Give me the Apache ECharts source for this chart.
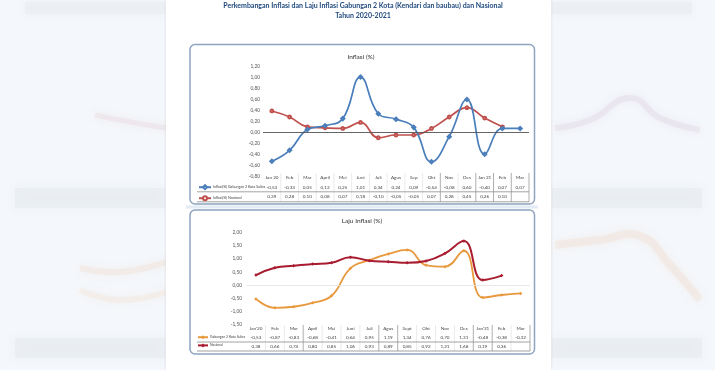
<!DOCTYPE html>
<html><head><meta charset="utf-8">
<script src="https://cdn.jsdelivr.net/npm/echarts@6/dist/echarts.min.js"></script>
<style>html,body{margin:0;padding:0;background:#f4f7fb}#c{width:715px;height:370px}</style>
</head><body><div id="c"></div>
<script>
// ---- data ----
const monthsTop = ['Jan 20','Feb','Mar','April','Mei','Juni','Juli','Agus','Sep','Okt','Nov','Des','Jan 21','Feb','Mar'];
const monthsBottom = ["Jan'20",'Feb','Mar','April','Mei','Juni','Juli','Agus','Sept','Okt','Nov','Des',"Jan'21",'Feb','Mar'];
const inflasiKota = [-0.53,-0.33,0.05,0.12,0.25,1.01,0.34,0.24,0.09,-0.54,-0.08,0.60,-0.40,0.07,0.07];
const inflasiNasional = [0.39,0.28,0.10,0.08,0.07,0.18,-0.10,-0.05,-0.05,0.07,0.28,0.45,0.26,0.10,null];
const lajuKota = [-0.53,-0.87,-0.83,-0.68,-0.41,0.64,0.95,1.19,1.34,0.76,0.70,1.31,-0.48,-0.38,-0.32];
const lajuNasional = [0.38,0.66,0.74,0.80,0.85,1.06,0.93,0.89,0.85,0.92,1.21,1.68,0.19,0.36,null];
const nameTop = ['Inflasi(%) Gabungan 2 Kota Sultra','Inflasi(%) Nasional'];
const nameBottom = ['Gabungan 2 Kota Sultra','Nasional'];

const FONT = 'Lato';
const fmt = v => (v === null || v === undefined) ? '' : v.toFixed(2).replace('.', ',');

const G0 = {left:263, top:66.7, width:266, height:109.3};
const G1 = {left:246.5, top:232.7, width:283.5, height:91.6};

function tableLines(G, y0, y1, hys, strong, color) {
  const out = [];
  const n = 15, bw = G.width / n;
  for (let i = 1; i <= n; i++) {
    const x = G.left + i * bw;
    const s = strong.indexOf(i) >= 0 || i === n;
    out.push({type:'line', silent:true, shape:{x1:x, y1:y0, x2:x, y2:y1},
      style:{stroke: s ? '#9a9a9a' : '#e6e6e6', lineWidth:0.8}});
  }
  hys.forEach(y => out.push({type:'line', silent:true, shape:{x1:197, y1:y, x2:G.left + G.width, y2:y},
      style:{stroke:color, lineWidth:0.8}}));
  return out;
}

const blur = (pts, color, w) => ({type:'polyline', silent:true, shape:{points:pts, smooth:0.5},
  style:{stroke:color, lineWidth:w, opacity:0.12, shadowBlur:8, shadowColor:color}});
const band = (x, y, w, h, c) => ({type:'rect', silent:true, shape:{x, y, width:w, height:h},
  style:{fill:c, opacity:0.4, shadowBlur:10, shadowColor:c}});

const graphics = [
  // blurred surroundings
  band(25, 2, 140, 12, '#e6e9ee'), band(552, 2, 140, 12, '#e6e9ee'),
  band(15, 188, 150, 20, '#e4e8ee'), band(552, 188, 150, 20, '#e4e8ee'),
  band(15, 338, 150, 20, '#e4e8ee'), band(552, 338, 150, 20, '#e4e8ee'),
  blur([[95,115],[130,122],[166,128]], '#d9a0a0', 5),
  blur([[80,268],[120,272],[166,262]], '#f0b98a', 6),
  blur([[80,290],[120,300],[166,292]], '#f4c7a0', 6),
  blur([[555,128],[590,120],[630,98],[660,118],[700,130]], '#c0a0b8', 6),
  blur([[555,245],[600,240],[640,236],[670,265],[700,300]], '#f2b48a', 8),
  // page
  {type:'rect', silent:true, shape:{x:166, y:0, width:385, height:370}, style:{fill:'#ffffff', shadowBlur:3, shadowColor:'rgba(0,0,0,0.12)'}},
  // title
  {type:'text', silent:true, style:{x:363, y:6, text:'Perkembangan Inflasi dan Laju Inflasi Gabungan 2 Kota (Kendari dan baubau) dan Nasional',
    font:'bold 7px ' + FONT, fill:'#1f497d', align:'center', verticalAlign:'middle'}},
  {type:'text', silent:true, style:{x:363, y:15.5, text:'Tahun 2020-2021',
    font:'bold 7px ' + FONT, fill:'#1f497d', align:'center', verticalAlign:'middle'}},
  // boxes
  {type:'rect', silent:true, shape:{x:190, y:44.5, width:344.5, height:159.5, r:5}, style:{fill:'#ffffff', stroke:'#8ea4bf', lineWidth:1.5}},
  {type:'rect', silent:true, shape:{x:190, y:210, width:344.5, height:144, r:5}, style:{fill:'#ffffff', stroke:'#8ea4bf', lineWidth:1.5}},
  {type:'rect', silent:true, shape:{x:186, y:205.5, width:352, height:3}, style:{fill:'#e3ebf4'}},
  // chart titles
  {type:'text', silent:true, style:{x:361, y:57, text:'Inflasi (%)', font:'6.5px ' + FONT, fill:'#333', align:'center', verticalAlign:'middle'}},
  {type:'text', silent:true, style:{x:362, y:221, text:'Laju Inflasi (%)', font:'6.5px ' + FONT, fill:'#333', align:'center', verticalAlign:'middle'}},
  ...tableLines(G0, 173, 202, [191.8, 201.8], [10, 12, 13, 14], '#8c8c8c'),
  ...tableLines(G1, 325, 351, [342, 351], [3, 7, 8, 12, 13], '#8c8c8c')
];

const yLab = {fontSize:4.8, color:'#555', fontFamily:FONT, formatter: v => v.toFixed(2).replace('.', ',')};
const rowTxt = (lh) => ({fontSize:4.6, lineHeight:lh, color:'#444', fontFamily:FONT});

const option = {
  animation:false,
  backgroundColor:'#f4f7fb',
  textStyle:{fontFamily:FONT},
  graphic:{elements:graphics},
  grid:[
    {left:G0.left, top:G0.top, width:G0.width, height:G0.height},
    {left:G1.left, top:G1.top, width:G1.width, height:G1.height}
  ],
  legend:[
    {data:nameTop, orient:'vertical', left:198, top:184.2, itemWidth:12, itemHeight:5, itemGap:5, padding:0,
      textStyle:{fontSize:3.6, color:'#444', fontFamily:FONT, padding:[0,0,0,-3]}, selectedMode:false},
    {data:nameBottom, orient:'vertical', left:197, top:335.2, itemWidth:10, itemHeight:5, itemGap:4.2, padding:0,
      textStyle:{fontSize:3.4, color:'#444', fontFamily:FONT, padding:[0,0,0,-3]}, selectedMode:false}
  ],
  xAxis:[
    {type:'category', gridIndex:0, data:monthsTop, axisLine:{show:false}, axisTick:{show:false},
      axisLabel:{interval:0, margin:-3, color:'#444', fontFamily:FONT,
        formatter:(v, i) => `{m|${v}}\n{a|${fmt(inflasiKota[i])}}\n{a|${fmt(inflasiNasional[i])}}`,
        rich:{m:rowTxt(9.6), a:rowTxt(9.6)}}},
    {type:'category', gridIndex:1, data:monthsBottom, axisLine:{show:false}, axisTick:{show:false},
      axisLabel:{interval:0, margin:-0.5, color:'#444', fontFamily:FONT,
        formatter:(v, i) => `{m|${v}}\n{a|${fmt(lajuKota[i])}}\n{a|${fmt(lajuNasional[i])}}`,
        rich:{m:rowTxt(9.2), a:rowTxt(9.2)}}}
  ],
  yAxis:[
    {type:'value', gridIndex:0, min:-0.8, max:1.2, interval:0.2, splitLine:{show:false}, axisLine:{show:false}, axisTick:{show:false},
      axisLabel:Object.assign({margin:3}, yLab)},
    {type:'value', gridIndex:1, min:-1.5, max:2, interval:0.5, splitLine:{show:false}, axisLine:{show:false}, axisTick:{show:false},
      axisLabel:Object.assign({margin:4.5}, yLab)}
  ],
  series:[
    {name:nameTop[0], type:'line', xAxisIndex:0, yAxisIndex:0, data:inflasiKota, smooth:0.45,
      symbol:'emptyDiamond', symbolSize:3.2, lineStyle:{color:'#4a7ebb', width:1.7}, itemStyle:{color:'#4a7ebb', borderWidth:0.7},
      markLine:{silent:true, symbol:'none', label:{show:false}, lineStyle:{color:'#555', width:0.9, type:'solid'}, data:[{yAxis:0}]}, z:3},
    {name:nameTop[1], type:'line', xAxisIndex:0, yAxisIndex:0, data:inflasiNasional, smooth:0.45,
      symbol:'emptyCircle', symbolSize:2.8, lineStyle:{color:'#c0504d', width:1.7}, itemStyle:{color:'#c0504d', borderWidth:0.7}, z:2},
    {name:nameBottom[0], type:'line', xAxisIndex:1, yAxisIndex:1, data:lajuKota, smooth:0.45,
      symbol:'diamond', symbolSize:3.5, lineStyle:{color:'#e8993e', width:1.8}, itemStyle:{color:'#e8993e'},
      markLine:{silent:true, symbol:'none', label:{show:false}, lineStyle:{color:'#e2e2e2', width:0.8, type:'solid'}, data:[{yAxis:0}]}, z:2},
    {name:nameBottom[1], type:'line', xAxisIndex:1, yAxisIndex:1, data:lajuNasional, smooth:0.45,
      symbol:'diamond', symbolSize:3.5, lineStyle:{color:'#a91b2f', width:2}, itemStyle:{color:'#a91b2f'}, z:3}
  ]
};
const chart = echarts.init(document.getElementById('c'));
chart.setOption(option);
</script></body></html>
